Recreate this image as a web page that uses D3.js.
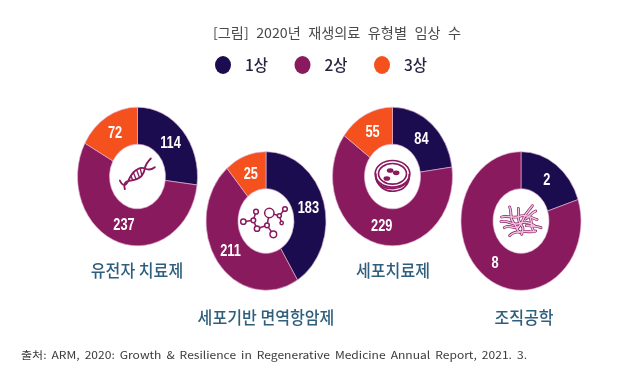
<!DOCTYPE html>
<html>
<head>
<meta charset="utf-8">
<script src="https://cdn.jsdelivr.net/npm/d3@7"></script>
<style>
  html, body { margin: 0; padding: 0; background: #fff; }
  svg { display: block; filter: blur(0.35px); }
  .title  { font-family: "Noto Sans CJK KR"; font-size: 13.5px; fill: #4a4a4a; word-spacing: 4px; }
  .legend { font-family: "Noto Sans CJK KR"; font-size: 15.5px; font-weight: 500; fill: #2b2440; }
  .value  { font-family: "Liberation Sans"; font-size: 16px; font-weight: 700; fill: #fff; text-anchor: middle; dominant-baseline: central; }
  .cat    { font-family: "Noto Sans CJK KR"; font-size: 17.5px; font-weight: 500; fill: #2f5f7d; text-anchor: middle; dominant-baseline: central; }
  .source { font-family: "Noto Sans CJK KR"; font-size: 10.5px; fill: #3a3a3a; word-spacing: 2px; }
</style>
</head>
<body>
<svg id="chart" width="630" height="376"></svg>
<script>
// Clinical trials by regenerative medicine type, 2020
const categories = ["유전자 치료제", "세포기반 면역항암제", "세포치료제", "조직공학"];
const phases = ["1상", "2상", "3상"];
const phase1 = [114, 183, 84, 2];
const phase2 = [237, 211, 229, 8];
const phase3 = [72, 25, 55, 0];
// the source draws the second donut's "25" slice about twice its size, so slice size is kept apart from the label
const phase3Drawn = [72, 50, 55, 0];
const titleText = "[그림] 2020년 재생의료 유형별 임상 수";
const sourceText = "출처: ARM, 2020: Growth & Resilience in Regenerative Medicine Annual Report, 2021. 3.";

const W = 630, H = 376;
const colors = d3.scaleOrdinal().domain(phases).range(["#1b0c50", "#8a1a5e", "#f4511e"]);

// LAYOUT
const rOuter = 60, rInner = 28, yStretch = 1.155;
const donuts = [
  { cx: 137.5, cy: 176.5, labelX: 137, labelY: 270, icon: "dna" },
  { cx: 266,   cy: 221,   labelX: 266, labelY: 317, icon: "molecule" },
  { cx: 392.5, cy: 176.5, labelX: 393, labelY: 270, icon: "dish" },
  { cx: 521,   cy: 221,   labelX: 524, labelY: 317, icon: "bacteria" }
];
const legendX = d3.scalePoint().domain(phases).range([223, 382]);

const svg = d3.select("#chart");

svg.append("text").attr("class", "title")
  .attr("x", 213).attr("y", 38)
  .attr("textLength", 248).attr("lengthAdjust", "spacingAndGlyphs")
  .text(titleText);

// LEGEND
const legend = svg.append("g").selectAll("g")
  .data(phases).join("g")
  .attr("transform", d => `translate(${legendX(d)},65)`);
legend.append("ellipse").attr("rx", 8).attr("ry", 9).attr("fill", d => colors(d));
legend.append("text").attr("class", "legend")
  .attr("x", 22).attr("y", 6).text(d => d);

// DONUTS
const pie = d3.pie().sort(null).value(d => d.drawn);
const arc = d3.arc().innerRadius(rInner).outerRadius(rOuter);

categories.forEach((cat, i) => {
  const spec = donuts[i];
  const rows = [
    { phase: phases[0], value: phase1[i], drawn: phase1[i] },
    { phase: phases[1], value: phase2[i], drawn: phase2[i] },
    { phase: phases[2], value: phase3[i], drawn: phase3Drawn[i] }
  ].filter(d => d.value > 0);
  const slices = pie(rows);

  const g = svg.append("g").attr("transform", `translate(${spec.cx},${spec.cy})`);

  g.append("g").attr("transform", `scale(1,${yStretch})`)
    .selectAll("path").data(slices).join("path")
    .attr("d", arc)
    .attr("fill", d => colors(d.data.phase))
    .attr("stroke", "#e3b4d6")
    .attr("stroke-width", 0.6);

  g.selectAll("text").data(slices).join("text")
    .attr("class", "value")
    .attr("transform", d => {
      const c = arc.centroid(d);
      return `translate(${c[0]},${c[1] * yStretch}) scale(0.8,1)`;
    })
    .text(d => d.data.value);

  drawIcon(g, spec.icon);

  svg.append("text").attr("class", "cat")
    .attr("transform", `translate(${spec.labelX},${spec.labelY}) scale(0.92,1)`)
    .text(cat);
});

// ICONS (decorative, traced at 3x around each donut centre)
function drawIcon(g, kind) {
  const ink = "#8a1a5e";
  const ic = g.append("g")
    .attr("transform", "scale(0.3333)")
    .attr("fill", "none")
    .attr("stroke", ink)
    .attr("stroke-linecap", "round");

  if (kind === "dna") {
    ic.attr("stroke-width", 5.5);
    ic.append("path").attr("d", "M-53,12 C-46,28 -36,30 -28,14 C-22,0 -16,-10 -7,-17 C4,-26 14,-28 22,-24 C30,-20 42,-20 52,-28");
    ic.append("path").attr("d", "M-38,38 C-42,22 -36,14 -28,14 C-16,12 -4,10 7,3 C16,-4 20,-14 22,-24 C24,-36 32,-46 40,-54");
    [[-20, -1, -14, 11], [-12, -11, -4, 9], [-3, -20, 6, 3], [8, -26, 13, -3]]
      .forEach(s => ic.append("line").attr("stroke-width", 4)
        .attr("x1", s[0]).attr("y1", s[1]).attr("x2", s[2]).attr("y2", s[3]));
  }

  if (kind === "molecule") {
    ic.attr("stroke-width", 4.5);
    const nodes = [[-68, 2, 8], [-38, -2, 7], [-30, -28, 7], [-27, 23, 8], [3, 13, 7], [10, -24, 14], [22, 40, 10], [40, -16, 6], [57, -36, 7], [47, 6, 5]];
    const links = [[0, 1], [1, 2], [1, 3], [3, 4], [4, 5], [4, 6], [5, 7], [7, 8], [7, 9]];
    links.forEach(l => ic.append("line")
      .attr("x1", nodes[l[0]][0]).attr("y1", nodes[l[0]][1])
      .attr("x2", nodes[l[1]][0]).attr("y2", nodes[l[1]][1]));
    nodes.forEach(n => ic.append("circle")
      .attr("cx", n[0]).attr("cy", n[1]).attr("r", n[2]).attr("fill", "#fff"));
  }

  if (kind === "dish") {
    ic.attr("stroke-width", 5);
    ic.append("path").attr("d", "M-50,-8 C-52,30 -20,46 6,44 C36,42 52,20 50,-6");
    ic.append("path").attr("d", "M-50,4 C-46,28 -20,38 6,36 C30,34 48,18 50,4");
    ic.append("ellipse").attr("cx", 0).attr("cy", -8).attr("rx", 52).attr("ry", 40);
    ic.append("ellipse").attr("cx", 0).attr("cy", -8).attr("rx", 42).attr("ry", 31);
    ic.append("g").attr("fill", ink).attr("stroke", "none")
      .selectAll("ellipse").data([[-7, -18], [11, -11], [-17, 6]]).join("ellipse")
      .attr("cx", d => d[0]).attr("cy", d => d[1]).attr("rx", 10).attr("ry", 7);
  }

  if (kind === "bacteria") {
    const worms = [
      "M-58,-12 C-40,-18 -20,-6 -4,-14 S30,-10 48,-4",
      "M-60,2 C-40,-4 -28,14 -8,8 S24,2 40,14",
      "M-50,20 C-36,8 -24,26 -10,18",
      "M-34,-42 C-26,-24 -36,-10 -22,6 S-14,28 -4,34",
      "M-8,-38 C-4,-22 -14,-8 -2,8 S6,24 2,40",
      "M34,-46 C24,-30 14,-26 8,-8 S-4,14 -12,24",
      "M44,-30 C30,-24 26,-14 14,-6",
      "M-34,44 C-24,30 -10,34 6,32 S32,36 44,30",
      "M28,-8 C34,4 28,18 38,30",
      "M16,14 C30,14 44,14 60,20"
    ];
    ic.selectAll("path.o").data(worms).join("path").attr("class", "o")
      .attr("d", d => d).attr("stroke-width", 8.5);
    ic.selectAll("path.i").data(worms).join("path").attr("class", "i")
      .attr("d", d => d).attr("stroke", "#efc2e2").attr("stroke-width", 4.5);
  }
}

svg.append("text").attr("class", "source")
  .attr("x", 21).attr("y", 359)
  .attr("textLength", 506).attr("lengthAdjust", "spacingAndGlyphs")
  .text(sourceText);
</script>
</body>
</html>
